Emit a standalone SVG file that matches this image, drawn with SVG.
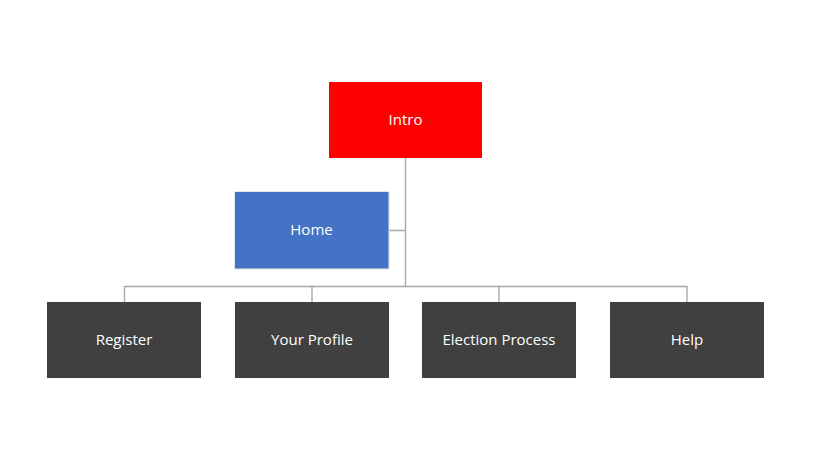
<svg xmlns="http://www.w3.org/2000/svg" width="819" height="462" viewBox="0 0 819 462">
<style>
.lbl{font-family:"Open Sans","Liberation Sans",sans-serif;font-size:15px;fill:#ffffff;text-anchor:middle;dominant-baseline:central}
.dark{fill:#404040}
.conn{stroke:#a6a6a6;stroke-width:1.3;fill:none}
</style>
<rect width="819" height="462" fill="#ffffff"/>
<g id="connectors">
<path class="conn" d="M405.5 158V286M389 230.5H405.5M124.5 286.5H687.5M124.5 286V302M312 286V302M499 286V302M687 286V302"/>
</g>
<g id="intro"><rect x="329" y="82" width="153" height="76" fill="#ff0000"/><text class="lbl" x="405.5" y="119">Intro</text></g>
<g id="home"><rect x="234.5" y="191.5" width="154.5" height="77.5" fill="#4472c4" stroke="#e6e6e6" stroke-width="1"/><text class="lbl" x="311.5" y="229">Home</text></g>
<g id="register"><rect class="dark" x="47" y="302" width="154" height="76"/><text class="lbl" x="124" y="339">Register</text></g>
<g id="profile"><rect class="dark" x="235" y="302" width="154" height="76"/><text class="lbl" x="312" y="339">Your Profile</text></g>
<g id="election"><rect class="dark" x="422" y="302" width="154" height="76"/><text class="lbl" x="499" y="339">Election Process</text></g>
<g id="help"><rect class="dark" x="610" y="302" width="154" height="76"/><text class="lbl" x="687" y="339">Help</text></g>
</svg>
